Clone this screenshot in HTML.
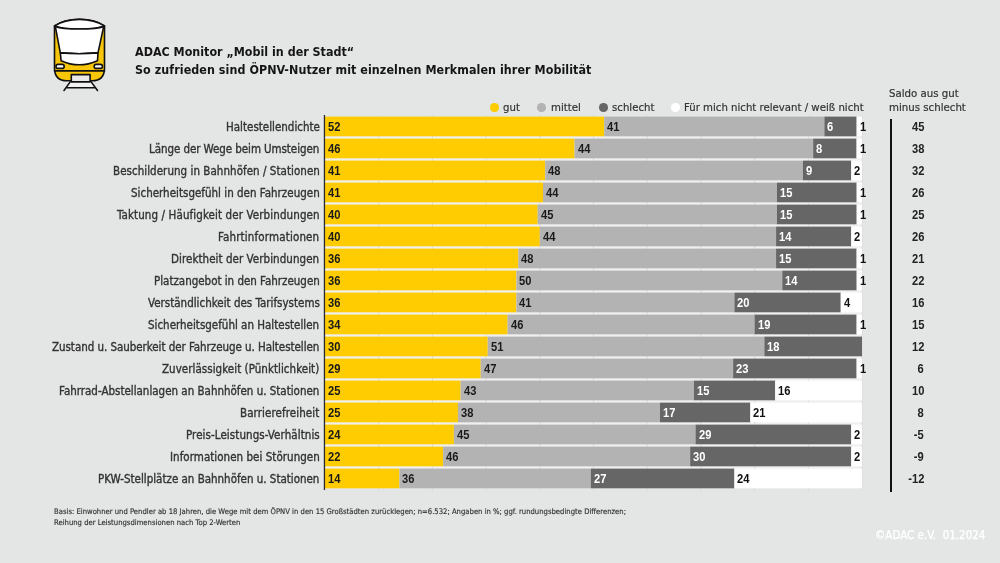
<!DOCTYPE html><html><head><meta charset="utf-8"><style>
*{margin:0;padding:0;box-sizing:border-box}
html,body{width:1000px;height:563px;overflow:hidden}
body{background:#e4e6e5;position:relative;font-family:'DejaVu Sans Condensed','Liberation Sans',sans-serif;color:#333}
div{will-change:transform}
.t{position:absolute;white-space:nowrap}
.title{left:135px;font-weight:bold;font-size:12.4px;color:#151515}
.lab{position:absolute;right:680.5px;font-size:11.48px;color:#333;-webkit-text-stroke:0.35px #333;white-space:nowrap;line-height:20px}
.seg{position:absolute;height:19.7px;font-family:"Liberation Sans",sans-serif;font-weight:bold;font-size:12px;line-height:19.7px;padding-left:2.6px;white-space:nowrap;overflow:visible}
.seg span,.sal span{display:inline-block;transform:scaleX(0.93);transform-origin:0 50%}
.y{color:#1a1a1a}
.m{color:#1a1a1a}
.d{color:#fff}
.w{color:#111}
.sal{position:absolute;right:76px;font-family:"Liberation Sans",sans-serif;font-weight:bold;font-size:12px;color:#222;line-height:19.7px;text-align:right}
.grid{position:absolute;width:1px;background:#d9dbda;top:115px;height:376px}
.dot{position:absolute;width:8.5px;height:8.5px;border-radius:50%;top:102.7px}
.leg{position:absolute;top:101px;font-size:11.3px;color:#333;-webkit-text-stroke:0.2px #333;white-space:nowrap;line-height:13px}
</style></head><body>
<svg style="position:absolute;left:0;top:0" width="120" height="100" viewBox="0 0 120 100">
<g stroke="#111" stroke-width="1.6" stroke-linejoin="round" stroke-linecap="round">
<path d="M54.5 26 C67.5 17.1 91.5 17.1 104.5 26 L104.5 68 Q104.5 80.8 92 80.8 L67 80.8 Q54.5 80.8 54.5 68 Z" fill="#f8c608"/>
<path d="M54.5 26 C67.5 17.1 91.5 17.1 104.5 26 C95 29.9 64 29.9 54.5 26 Z" fill="#fff"/>
<path d="M55.3 26.4 C64 29.9 95 29.9 103.7 26.4 L98 52.9 Q79 54.5 60.3 52.9 Z" fill="#fff"/>
<path d="M60.3 52.9 Q79 54.5 98 52.9 L97.5 60.7 Q79 68.9 61.1 60.7 Z" fill="#fff"/>
<rect x="56" y="64.4" width="8.2" height="4" rx="2" fill="#fff"/>
<rect x="94.2" y="64.4" width="8.2" height="4" rx="2" fill="#fff"/>
<path d="M54.5 70.9 L104.5 70.9" fill="none"/>
<path d="M70.2 81.9 L91.2 81.9 L95.6 87.7 L66 87.7 Z" fill="#f2f2f2" stroke="none"/>
<rect x="71.3" y="74.6" width="18.8" height="7.3" fill="#e9e9e9"/>
<path d="M70.2 81.9 L64 90.5 M91.2 81.9 L97.5 90.5 M66.4 87.7 L95.2 87.7" fill="none"/>
</g></svg>
<div class="t title" style="top:43.5px">ADAC Monitor „Mobil in der Stadt“</div>
<div class="t title" style="top:61.5px;letter-spacing:0.06px">So zufrieden sind ÖPNV-Nutzer mit einzelnen Merkmalen ihrer Mobilität</div>
<div class="t" style="left:889px;top:87px;font-size:11.35px;line-height:13.7px;color:#333;-webkit-text-stroke:0.2px #333">Saldo aus gut<br>minus schlecht</div>
<div class="dot" style="left:489.55px;background:#fecc00"></div>
<div class="leg" style="left:502.5px">gut</div>
<div class="dot" style="left:537.45px;background:#b3b3b3"></div>
<div class="leg" style="left:551px">mittel</div>
<div class="dot" style="left:598.95px;background:#666"></div>
<div class="leg" style="left:611.8px">schlecht</div>
<div class="dot" style="left:671.15px;background:#fff"></div>
<div class="leg" style="left:684px">Für mich nicht relevant / weiß nicht</div>
<svg style="position:absolute;left:0;top:0" width="1000" height="563" viewBox="0 0 1000 563"><rect x="325.0" y="136.29999999999998" width="537.0" height="332.3" fill="#f0f0ef"/><rect x="378.20" y="115" width="1" height="376" fill="#d9dbda"/><rect x="431.90" y="115" width="1" height="376" fill="#d9dbda"/><rect x="485.60" y="115" width="1" height="376" fill="#d9dbda"/><rect x="539.30" y="115" width="1" height="376" fill="#d9dbda"/><rect x="593.00" y="115" width="1" height="376" fill="#d9dbda"/><rect x="646.70" y="115" width="1" height="376" fill="#d9dbda"/><rect x="700.40" y="115" width="1" height="376" fill="#d9dbda"/><rect x="754.10" y="115" width="1" height="376" fill="#d9dbda"/><rect x="807.80" y="115" width="1" height="376" fill="#d9dbda"/><rect x="861.50" y="115" width="1" height="376" fill="#d9dbda"/><rect x="325.00" y="116.60" width="279.24" height="19.7" fill="#fecc00"/><rect x="604.24" y="116.60" width="220.17" height="19.7" fill="#b3b3b3"/><rect x="824.41" y="116.60" width="32.22" height="19.7" fill="#666666"/><rect x="856.63" y="116.60" width="5.37" height="19.7" fill="#ffffff"/><rect x="325.00" y="138.60" width="249.52" height="19.7" fill="#fecc00"/><rect x="574.52" y="138.60" width="238.67" height="19.7" fill="#b3b3b3"/><rect x="813.18" y="138.60" width="43.39" height="19.7" fill="#666666"/><rect x="856.58" y="138.60" width="5.42" height="19.7" fill="#ffffff"/><rect x="325.00" y="160.60" width="220.17" height="19.7" fill="#fecc00"/><rect x="545.17" y="160.60" width="257.76" height="19.7" fill="#b3b3b3"/><rect x="802.93" y="160.60" width="48.33" height="19.7" fill="#666666"/><rect x="851.26" y="160.60" width="10.74" height="19.7" fill="#ffffff"/><rect x="325.00" y="182.60" width="217.99" height="19.7" fill="#fecc00"/><rect x="542.99" y="182.60" width="233.94" height="19.7" fill="#b3b3b3"/><rect x="776.93" y="182.60" width="79.75" height="19.7" fill="#666666"/><rect x="856.68" y="182.60" width="5.32" height="19.7" fill="#ffffff"/><rect x="325.00" y="204.60" width="212.67" height="19.7" fill="#fecc00"/><rect x="537.67" y="204.60" width="239.26" height="19.7" fill="#b3b3b3"/><rect x="776.93" y="204.60" width="79.75" height="19.7" fill="#666666"/><rect x="856.68" y="204.60" width="5.32" height="19.7" fill="#ffffff"/><rect x="325.00" y="226.60" width="214.80" height="19.7" fill="#fecc00"/><rect x="539.80" y="226.60" width="236.28" height="19.7" fill="#b3b3b3"/><rect x="776.08" y="226.60" width="75.18" height="19.7" fill="#666666"/><rect x="851.26" y="226.60" width="10.74" height="19.7" fill="#ffffff"/><rect x="325.00" y="248.60" width="193.32" height="19.7" fill="#fecc00"/><rect x="518.32" y="248.60" width="257.76" height="19.7" fill="#b3b3b3"/><rect x="776.08" y="248.60" width="80.55" height="19.7" fill="#666666"/><rect x="856.63" y="248.60" width="5.37" height="19.7" fill="#ffffff"/><rect x="325.00" y="270.60" width="191.41" height="19.7" fill="#fecc00"/><rect x="516.41" y="270.60" width="265.84" height="19.7" fill="#b3b3b3"/><rect x="782.25" y="270.60" width="74.44" height="19.7" fill="#666666"/><rect x="856.68" y="270.60" width="5.32" height="19.7" fill="#ffffff"/><rect x="325.00" y="292.60" width="191.41" height="19.7" fill="#fecc00"/><rect x="516.41" y="292.60" width="217.99" height="19.7" fill="#b3b3b3"/><rect x="734.40" y="292.60" width="106.34" height="19.7" fill="#666666"/><rect x="840.73" y="292.60" width="21.27" height="19.7" fill="#ffffff"/><rect x="325.00" y="314.60" width="182.58" height="19.7" fill="#fecc00"/><rect x="507.58" y="314.60" width="247.02" height="19.7" fill="#b3b3b3"/><rect x="754.60" y="314.60" width="102.03" height="19.7" fill="#666666"/><rect x="856.63" y="314.60" width="5.37" height="19.7" fill="#ffffff"/><rect x="325.00" y="336.60" width="162.73" height="19.7" fill="#fecc00"/><rect x="487.73" y="336.60" width="276.64" height="19.7" fill="#b3b3b3"/><rect x="764.36" y="336.60" width="97.64" height="19.7" fill="#666666"/><rect x="325.00" y="358.60" width="155.73" height="19.7" fill="#fecc00"/><rect x="480.73" y="358.60" width="252.39" height="19.7" fill="#b3b3b3"/><rect x="733.12" y="358.60" width="123.51" height="19.7" fill="#666666"/><rect x="856.63" y="358.60" width="5.37" height="19.7" fill="#ffffff"/><rect x="325.00" y="380.60" width="135.61" height="19.7" fill="#fecc00"/><rect x="460.61" y="380.60" width="233.24" height="19.7" fill="#b3b3b3"/><rect x="693.85" y="380.60" width="81.36" height="19.7" fill="#666666"/><rect x="775.21" y="380.60" width="86.79" height="19.7" fill="#ffffff"/><rect x="325.00" y="402.60" width="132.92" height="19.7" fill="#fecc00"/><rect x="457.92" y="402.60" width="202.04" height="19.7" fill="#b3b3b3"/><rect x="659.96" y="402.60" width="90.39" height="19.7" fill="#666666"/><rect x="750.35" y="402.60" width="111.65" height="19.7" fill="#ffffff"/><rect x="325.00" y="424.60" width="128.88" height="19.7" fill="#fecc00"/><rect x="453.88" y="424.60" width="241.65" height="19.7" fill="#b3b3b3"/><rect x="695.53" y="424.60" width="155.73" height="19.7" fill="#666666"/><rect x="851.26" y="424.60" width="10.74" height="19.7" fill="#ffffff"/><rect x="325.00" y="446.60" width="118.14" height="19.7" fill="#fecc00"/><rect x="443.14" y="446.60" width="247.02" height="19.7" fill="#b3b3b3"/><rect x="690.16" y="446.60" width="161.10" height="19.7" fill="#666666"/><rect x="851.26" y="446.60" width="10.74" height="19.7" fill="#ffffff"/><rect x="325.00" y="468.60" width="74.44" height="19.7" fill="#fecc00"/><rect x="399.44" y="468.60" width="191.41" height="19.7" fill="#b3b3b3"/><rect x="590.84" y="468.60" width="143.55" height="19.7" fill="#666666"/><rect x="734.40" y="468.60" width="127.60" height="19.7" fill="#ffffff"/><rect x="323.8" y="115" width="1.3" height="375" fill="#2a2a2a"/><rect x="890" y="119" width="2" height="373" fill="#111"/></svg>
<div class="lab" style="top:116.90px;letter-spacing:0.007px">Haltestellendichte</div>
<div class="seg y" style="left:325.00px;top:117.50px"><span>52</span></div>
<div class="seg m" style="left:604.24px;top:117.50px"><span>41</span></div>
<div class="seg d" style="left:824.41px;top:117.50px"><span>6</span></div>
<div class="seg w" style="left:856.63px;top:117.50px"><span>1</span></div>
<div class="sal" style="top:117.50px"><span style="transform-origin:100% 50%">45</span></div>
<div class="lab" style="top:138.90px;letter-spacing:-0.064px">Länge der Wege beim Umsteigen</div>
<div class="seg y" style="left:325.00px;top:139.50px"><span>46</span></div>
<div class="seg m" style="left:574.52px;top:139.50px"><span>44</span></div>
<div class="seg d" style="left:813.18px;top:139.50px"><span>8</span></div>
<div class="seg w" style="left:856.58px;top:139.50px"><span>1</span></div>
<div class="sal" style="top:139.50px"><span style="transform-origin:100% 50%">38</span></div>
<div class="lab" style="top:160.90px;letter-spacing:0.051px">Beschilderung in Bahnhöfen / Stationen</div>
<div class="seg y" style="left:325.00px;top:161.50px"><span>41</span></div>
<div class="seg m" style="left:545.17px;top:161.50px"><span>48</span></div>
<div class="seg d" style="left:802.93px;top:161.50px"><span>9</span></div>
<div class="seg w" style="left:851.26px;top:161.50px"><span>2</span></div>
<div class="sal" style="top:161.50px"><span style="transform-origin:100% 50%">32</span></div>
<div class="lab" style="top:182.90px;letter-spacing:0.017px">Sicherheitsgefühl in den Fahrzeugen</div>
<div class="seg y" style="left:325.00px;top:183.50px"><span>41</span></div>
<div class="seg m" style="left:542.99px;top:183.50px"><span>44</span></div>
<div class="seg d" style="left:776.93px;top:183.50px"><span>15</span></div>
<div class="seg w" style="left:856.68px;top:183.50px"><span>1</span></div>
<div class="sal" style="top:183.50px"><span style="transform-origin:100% 50%">26</span></div>
<div class="lab" style="top:204.90px;letter-spacing:0.116px">Taktung / Häufigkeit der Verbindungen</div>
<div class="seg y" style="left:325.00px;top:205.50px"><span>40</span></div>
<div class="seg m" style="left:537.67px;top:205.50px"><span>45</span></div>
<div class="seg d" style="left:776.93px;top:205.50px"><span>15</span></div>
<div class="seg w" style="left:856.68px;top:205.50px"><span>1</span></div>
<div class="sal" style="top:205.50px"><span style="transform-origin:100% 50%">25</span></div>
<div class="lab" style="top:226.90px;letter-spacing:0.158px">Fahrtinformationen</div>
<div class="seg y" style="left:325.00px;top:227.50px"><span>40</span></div>
<div class="seg m" style="left:539.80px;top:227.50px"><span>44</span></div>
<div class="seg d" style="left:776.08px;top:227.50px"><span>14</span></div>
<div class="seg w" style="left:851.26px;top:227.50px"><span>2</span></div>
<div class="sal" style="top:227.50px"><span style="transform-origin:100% 50%">26</span></div>
<div class="lab" style="top:248.90px;letter-spacing:0.064px">Direktheit der Verbindungen</div>
<div class="seg y" style="left:325.00px;top:249.50px"><span>36</span></div>
<div class="seg m" style="left:518.32px;top:249.50px"><span>48</span></div>
<div class="seg d" style="left:776.08px;top:249.50px"><span>15</span></div>
<div class="seg w" style="left:856.63px;top:249.50px"><span>1</span></div>
<div class="sal" style="top:249.50px"><span style="transform-origin:100% 50%">21</span></div>
<div class="lab" style="top:270.90px;letter-spacing:-0.006px">Platzangebot in den Fahrzeugen</div>
<div class="seg y" style="left:325.00px;top:271.50px"><span>36</span></div>
<div class="seg m" style="left:516.41px;top:271.50px"><span>50</span></div>
<div class="seg d" style="left:782.25px;top:271.50px"><span>14</span></div>
<div class="seg w" style="left:856.68px;top:271.50px"><span>1</span></div>
<div class="sal" style="top:271.50px"><span style="transform-origin:100% 50%">22</span></div>
<div class="lab" style="top:292.90px;letter-spacing:0.017px">Verständlichkeit des Tarifsystems</div>
<div class="seg y" style="left:325.00px;top:293.50px"><span>36</span></div>
<div class="seg m" style="left:516.41px;top:293.50px"><span>41</span></div>
<div class="seg d" style="left:734.40px;top:293.50px"><span>20</span></div>
<div class="seg w" style="left:840.73px;top:293.50px"><span>4</span></div>
<div class="sal" style="top:293.50px"><span style="transform-origin:100% 50%">16</span></div>
<div class="lab" style="top:314.90px;letter-spacing:0.008px">Sicherheitsgefühl an Haltestellen</div>
<div class="seg y" style="left:325.00px;top:315.50px"><span>34</span></div>
<div class="seg m" style="left:507.58px;top:315.50px"><span>46</span></div>
<div class="seg d" style="left:754.60px;top:315.50px"><span>19</span></div>
<div class="seg w" style="left:856.63px;top:315.50px"><span>1</span></div>
<div class="sal" style="top:315.50px"><span style="transform-origin:100% 50%">15</span></div>
<div class="lab" style="top:336.90px;letter-spacing:-0.037px">Zustand u. Sauberkeit der Fahrzeuge u. Haltestellen</div>
<div class="seg y" style="left:325.00px;top:337.50px"><span>30</span></div>
<div class="seg m" style="left:487.73px;top:337.50px"><span>51</span></div>
<div class="seg d" style="left:764.36px;top:337.50px"><span>18</span></div>
<div class="sal" style="top:337.50px"><span style="transform-origin:100% 50%">12</span></div>
<div class="lab" style="top:358.90px;letter-spacing:0.051px">Zuverlässigkeit (Pünktlichkeit)</div>
<div class="seg y" style="left:325.00px;top:359.50px"><span>29</span></div>
<div class="seg m" style="left:480.73px;top:359.50px"><span>47</span></div>
<div class="seg d" style="left:733.12px;top:359.50px"><span>23</span></div>
<div class="seg w" style="left:856.63px;top:359.50px"><span>1</span></div>
<div class="sal" style="top:359.50px"><span style="transform-origin:100% 50%">6</span></div>
<div class="lab" style="top:380.90px;letter-spacing:0.004px">Fahrrad-Abstellanlagen an Bahnhöfen u. Stationen</div>
<div class="seg y" style="left:325.00px;top:381.50px"><span>25</span></div>
<div class="seg m" style="left:460.61px;top:381.50px"><span>43</span></div>
<div class="seg d" style="left:693.85px;top:381.50px"><span>15</span></div>
<div class="seg w" style="left:775.21px;top:381.50px"><span>16</span></div>
<div class="sal" style="top:381.50px"><span style="transform-origin:100% 50%">10</span></div>
<div class="lab" style="top:402.90px;letter-spacing:0.095px">Barrierefreiheit</div>
<div class="seg y" style="left:325.00px;top:403.50px"><span>25</span></div>
<div class="seg m" style="left:457.92px;top:403.50px"><span>38</span></div>
<div class="seg d" style="left:659.96px;top:403.50px"><span>17</span></div>
<div class="seg w" style="left:750.35px;top:403.50px"><span>21</span></div>
<div class="sal" style="top:403.50px"><span style="transform-origin:100% 50%">8</span></div>
<div class="lab" style="top:424.90px;letter-spacing:0.081px">Preis-Leistungs-Verhältnis</div>
<div class="seg y" style="left:325.00px;top:425.50px"><span>24</span></div>
<div class="seg m" style="left:453.88px;top:425.50px"><span>45</span></div>
<div class="seg d" style="left:695.53px;top:425.50px"><span>29</span></div>
<div class="seg w" style="left:851.26px;top:425.50px"><span>2</span></div>
<div class="sal" style="top:425.50px"><span style="transform-origin:100% 50%">-5</span></div>
<div class="lab" style="top:446.90px;letter-spacing:0.045px">Informationen bei Störungen</div>
<div class="seg y" style="left:325.00px;top:447.50px"><span>22</span></div>
<div class="seg m" style="left:443.14px;top:447.50px"><span>46</span></div>
<div class="seg d" style="left:690.16px;top:447.50px"><span>30</span></div>
<div class="seg w" style="left:851.26px;top:447.50px"><span>2</span></div>
<div class="sal" style="top:447.50px"><span style="transform-origin:100% 50%">-9</span></div>
<div class="lab" style="top:468.90px;letter-spacing:-0.002px">PKW-Stellplätze an Bahnhöfen u. Stationen</div>
<div class="seg y" style="left:325.00px;top:469.50px"><span>14</span></div>
<div class="seg m" style="left:399.44px;top:469.50px"><span>36</span></div>
<div class="seg d" style="left:590.84px;top:469.50px"><span>27</span></div>
<div class="seg w" style="left:734.40px;top:469.50px"><span>24</span></div>
<div class="sal" style="top:469.50px"><span style="transform-origin:100% 50%">-12</span></div>
<div class="t" style="left:53.5px;top:506.7px;font-size:7.63px;line-height:10.5px;color:#333;-webkit-text-stroke:0.15px #333">Basis: Einwohner und Pendler ab 18 Jahren, die Wege mit dem ÖPNV in den 15 Großstädten zurücklegen; n=6.532; Angaben in %; ggf. rundungsbedingte Differenzen;<br>Reihung der Leistungsdimensionen nach Top 2-Werten</div>
<div class="t" style="right:15px;top:528px;font-size:11.5px;color:#fff;-webkit-text-stroke:0.25px #fff">©ADAC e.V.&nbsp; 01.2024</div>
</body></html>
